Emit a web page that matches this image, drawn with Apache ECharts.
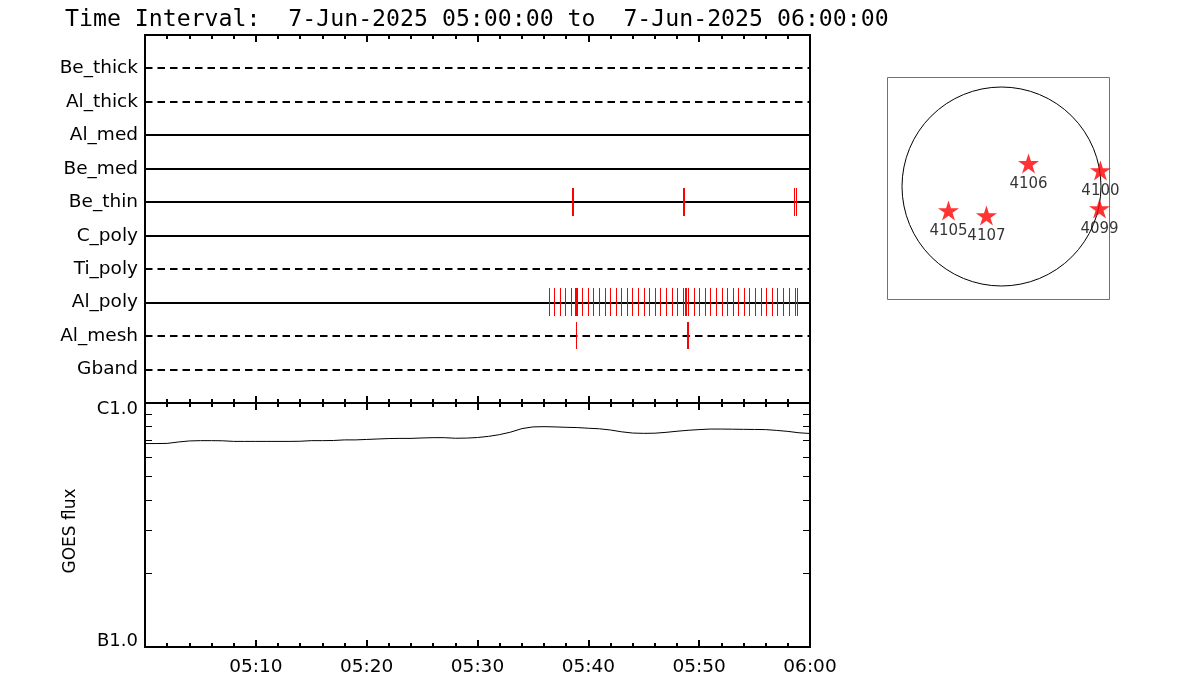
<!DOCTYPE html>
<html>
<head>
<meta charset="utf-8">
<script src="https://cdn.jsdelivr.net/npm/echarts@6/dist/echarts.min.js"></script>
<style>
html,body{margin:0;padding:0;background:#ffffff;}
#chart{width:1200px;height:700px;}
</style>
</head>
<body>
<div id="chart"></div>
<script>
// ---------------- DATA ----------------
const titleText = 'Time Interval:  7-Jun-2025 05:00:00 to  7-Jun-2025 06:00:00';
const startTime = '05:00:00';
const endTime = '06:00:00';

// filter rows, top to bottom
const filterRows = ['Be_thick', 'Al_thick', 'Al_med', 'Be_med', 'Be_thin', 'C_poly', 'Ti_poly', 'Al_poly', 'Al_mesh', 'Gband'];
const dashedRows = ['Be_thick', 'Al_thick', 'Ti_poly', 'Al_mesh', 'Gband'];

// exposure times per filter
const beThinTimes = ['05:38:34', '05:38:40', '05:48:35', '05:48:41', '05:58:36', '05:58:47'];
const alPolyTimes = [
  '05:36:29', '05:36:59', '05:37:29', '05:37:59', '05:38:30', '05:38:51', '05:38:56', '05:39:00',
  '05:39:30', '05:40:00', '05:40:30', '05:41:00', '05:41:31', '05:42:01', '05:42:31', '05:43:01',
  '05:43:31', '05:44:01', '05:44:32', '05:45:02', '05:45:32', '05:46:02', '05:46:32', '05:47:03',
  '05:47:33', '05:48:03', '05:48:33', '05:48:46', '05:48:52', '05:49:03', '05:49:33', '05:50:04',
  '05:50:34', '05:51:04', '05:51:34', '05:52:04', '05:52:35', '05:53:05', '05:53:35', '05:54:05',
  '05:54:35', '05:55:05', '05:55:36', '05:56:06', '05:56:36', '05:57:06', '05:57:36', '05:58:07',
  '05:58:42', '05:58:52'
];
const alMeshTimes = ['05:38:56', '05:48:57', '05:49:02'];

// time axis tick labels (every 10 min)
const timeTickLabels = ['', '05:10', '05:20', '05:30', '05:40', '05:50', '06:00'];

// GOES flux (W/m^2), one value per minute
const goesTimes = [
  '05:00','05:01','05:02','05:03','05:04','05:05','05:06','05:07','05:08','05:09',
  '05:10','05:11','05:12','05:13','05:14','05:15','05:16','05:17','05:18','05:19',
  '05:20','05:21','05:22','05:23','05:24','05:25','05:26','05:27','05:28','05:29',
  '05:30','05:31','05:32','05:33','05:34','05:35','05:36','05:37','05:38','05:39',
  '05:40','05:41','05:42','05:43','05:44','05:45','05:46','05:47','05:48','05:49',
  '05:50','05:51','05:52','05:53','05:54','05:55','05:56','05:57','05:58','05:59','06:00'
];
const goesFlux = [
  6.82e-6, 6.82e-6, 6.83e-6, 6.92e-6, 6.99e-6, 7.01e-6, 7.01e-6, 7.00e-6, 6.96e-6, 6.96e-6,
  6.96e-6, 6.96e-6, 6.96e-6, 6.96e-6, 6.97e-6, 7.01e-6, 7.01e-6, 7.02e-6, 7.06e-6, 7.06e-6,
  7.09e-6, 7.12e-6, 7.15e-6, 7.16e-6, 7.16e-6, 7.19e-6, 7.21e-6, 7.21e-6, 7.17e-6, 7.18e-6,
  7.22e-6, 7.30e-6, 7.42e-6, 7.60e-6, 7.85e-6, 7.98e-6, 8.00e-6, 7.98e-6, 7.95e-6, 7.93e-6,
  7.88e-6, 7.84e-6, 7.75e-6, 7.62e-6, 7.53e-6, 7.51e-6, 7.52e-6, 7.58e-6, 7.66e-6, 7.73e-6,
  7.78e-6, 7.82e-6, 7.82e-6, 7.81e-6, 7.80e-6, 7.79e-6, 7.78e-6, 7.72e-6, 7.65e-6, 7.55e-6, 7.50e-6
];
const fluxLabelValues = [1e-6, 1e-5];
const fluxLabels = ['B1.0', 'C1.0'];
const fluxMinorTicks = [2e-6, 3e-6, 4e-6, 5e-6, 6e-6, 7e-6, 8e-6, 9e-6];
const fluxAxisName = 'GOES flux';

// active regions on the solar disk (arcsec from disk centre)
const arNumbers = ['4106', '4100', '4099', '4105', '4107'];
const arX = [257, 941, 932, -504, -143];
const arY = [219, 152, -209, -228, -276];
const solarRadius = 946;

// ---------------- HELPERS ----------------
function toSec(s) {
  const p = s.split(':').map(Number);
  return p[0] * 3600 + p[1] * 60 + (p[2] || 0);
}
function toMin(s) { return (toSec(s) - toSec(startTime)) / 60; }
const xMin = 0;
const xMax = toMin(endTime);

const FONT = 'DejaVu Sans';
const BLACK = '#000000';
const RED = '#ff0000';

const rowValue = name => filterRows.length - filterRows.indexOf(name);

function tickAxis(gridIndex, position, showLabels) {
  return {
    type: 'value', gridIndex: gridIndex, position: position,
    min: xMin, max: xMax, interval: 10,
    axisLine: { show: false, onZero: false },
    axisTick: { show: true, inside: true, length: 7, lineStyle: { color: BLACK, width: 2 } },
    minorTick: { show: true, splitNumber: 5, length: 4, lineStyle: { color: BLACK, width: 2 } },
    splitLine: { show: false },
    axisLabel: showLabels ? {
      show: true, margin: 11, color: BLACK, fontFamily: FONT, fontSize: 18.5,
      formatter: v => timeTickLabels[Math.round(v / 10)] || ''
    } : { show: false }
  };
}

function renderRow(params, api) {
  const v = api.value(1);
  const p0 = api.coord([xMin, v]);
  const p1 = api.coord([xMax, v]);
  const y = Math.round(p0[1]);
  const dashed = dashedRows.indexOf(filterRows[params.dataIndex]) >= 0;
  return {
    type: 'line',
    shape: { x1: p0[0], y1: y, x2: p1[0], y2: y },
    style: { stroke: BLACK, lineWidth: 2, lineDash: dashed ? [7.5, 5] : null }
  };
}

function renderTick(params, api) {
  const t = api.value(0), v = api.value(1);
  const c = api.coord([t, v]);
  const a = api.coord([t, v + 0.43]);
  const b = api.coord([t, v - 0.40]);
  const x = Math.floor(c[0]);
  const y0 = Math.round(a[1]);
  const y1 = Math.round(b[1]);
  return {
    type: 'rect',
    shape: { x: x, y: y0, width: 1, height: y1 - y0 },
    style: { fill: RED, stroke: null }
  };
}

function renderFluxTick(params, api) {
  const v = api.value(1);
  const l = api.coord([xMin, v]);
  const r = api.coord([xMax, v]);
  const y = Math.floor(l[1]);
  return {
    type: 'group',
    children: [
      { type: 'rect', shape: { x: l[0], y: y, width: 7, height: 1 }, style: { fill: BLACK, stroke: null } },
      { type: 'rect', shape: { x: r[0] - 7, y: y, width: 7, height: 1 }, style: { fill: BLACK, stroke: null } }
    ]
  };
}

function renderLimb(params, api) {
  const c = api.coord([0, 0]);
  const r = api.size([solarRadius, 0])[0];
  return {
    type: 'circle',
    shape: { cx: c[0], cy: c[1], r: r },
    style: { stroke: BLACK, fill: null, lineWidth: 1 }
  };
}

const starPath = 'path://M0,-10L2.245,-3.09L9.511,-3.09L3.633,1.18L5.878,8.09L0,3.82L-5.878,8.09L-3.633,1.18L-9.511,-3.09L-2.245,-3.09Z';

function eventData(times, row) { return times.map(t => [toMin(t), rowValue(row)]); }

// ---------------- CHART ----------------
const chart = echarts.init(document.getElementById('chart'), null, { renderer: 'canvas' });
chart.setOption({
  animation: false,
  backgroundColor: '#ffffff',
  title: {
    text: titleText, left: 60, top: 3,
    textStyle: { fontFamily: 'DejaVu Sans Mono', fontSize: 23.2, fontWeight: 'normal', color: BLACK }
  },
  grid: [
    { left: 145, top: 35, width: 665, height: 368, show: true, borderColor: BLACK, borderWidth: 2, backgroundColor: 'transparent' },
    { left: 145, top: 403, width: 665, height: 244, show: true, borderColor: BLACK, borderWidth: 2, backgroundColor: 'transparent' },
    { left: 887.5, top: 77.5, width: 222, height: 222, show: true, borderColor: '#d52ad5', borderWidth: 1, backgroundColor: 'transparent' }
  ],
  xAxis: [
    tickAxis(0, 'bottom', false),
    tickAxis(0, 'top', false),
    tickAxis(1, 'top', false),
    tickAxis(1, 'bottom', true),
    { type: 'value', gridIndex: 2, min: -1084, max: 1027, show: false }
  ],
  yAxis: [
    {
      type: 'value', gridIndex: 0, min: 0, max: filterRows.length + 1, interval: 1,
      axisLine: { show: false, onZero: false }, axisTick: { show: false }, splitLine: { show: false },
      axisLabel: {
        margin: 7, color: BLACK, fontFamily: FONT, fontSize: 18.5, padding: [7, 0, 0, 0],
        formatter: v => filterRows[filterRows.length - Math.round(v)] || ''
      }
    },
    {
      type: 'log', logBase: 10, gridIndex: 1, min: fluxLabelValues[0], max: fluxLabelValues[1],
      axisLine: { show: false, onZero: false }, axisTick: { show: false }, splitLine: { show: false },
      minorTick: { show: false },
      axisLabel: {
        margin: 7, color: BLACK, fontFamily: FONT, fontSize: 18, lineHeight: 12,
        verticalAlignMinLabel: 'bottom', verticalAlignMaxLabel: 'top',
        formatter: v => {
          const e = Math.round(Math.log10(v));
          const i = fluxLabelValues.findIndex(x => Math.round(Math.log10(x)) === e);
          return i >= 0 ? fluxLabels[i] : '';
        }
      },
      name: fluxAxisName, nameLocation: 'middle', nameRotate: 90, nameGap: 66,
      nameTextStyle: { color: BLACK, fontFamily: FONT, fontSize: 17, padding: [0, 12, 0, 0] }
    },
    { type: 'value', gridIndex: 2, min: -1074, max: 1036, show: false }
  ],
  series: [
    {
      type: 'custom', name: 'rows', xAxisIndex: 0, yAxisIndex: 0, clip: false,
      data: filterRows.map(n => [xMin, rowValue(n)]),
      renderItem: renderRow, silent: true
    },
    {
      type: 'custom', name: 'Be_thin', xAxisIndex: 0, yAxisIndex: 0, clip: false,
      data: eventData(beThinTimes, 'Be_thin'), renderItem: renderTick, silent: true
    },
    {
      type: 'custom', name: 'Al_poly', xAxisIndex: 0, yAxisIndex: 0, clip: false,
      data: eventData(alPolyTimes, 'Al_poly'), renderItem: renderTick, silent: true
    },
    {
      type: 'custom', name: 'Al_mesh', xAxisIndex: 0, yAxisIndex: 0, clip: false,
      data: eventData(alMeshTimes, 'Al_mesh'), renderItem: renderTick, silent: true
    },
    {
      type: 'line', name: 'GOES', xAxisIndex: 3, yAxisIndex: 1,
      data: goesTimes.map((t, i) => [toMin(t), goesFlux[i]]),
      showSymbol: false, symbol: 'none',
      lineStyle: { color: BLACK, width: 1 }, silent: true
    },
    {
      type: 'custom', name: 'fluxTicks', xAxisIndex: 3, yAxisIndex: 1, clip: false,
      data: fluxMinorTicks.map(v => [xMin, v]), renderItem: renderFluxTick, silent: true
    },
    {
      type: 'custom', name: 'limb', xAxisIndex: 4, yAxisIndex: 2, clip: false,
      data: [[0, 0]], renderItem: renderLimb, silent: true
    },
    {
      type: 'scatter', name: 'AR', xAxisIndex: 4, yAxisIndex: 2,
      data: arX.map((x, i) => [x, arY[i]]),
      symbol: starPath, symbolSize: 21, symbolKeepAspect: true,
      itemStyle: { color: RED },
      label: {
        show: true, position: 'bottom', distance: 3, color: BLACK, fontFamily: FONT, fontSize: 15,
        formatter: p => arNumbers[p.dataIndex]
      },
      silent: true
    }
  ]
});
</script>
</body>
</html>
